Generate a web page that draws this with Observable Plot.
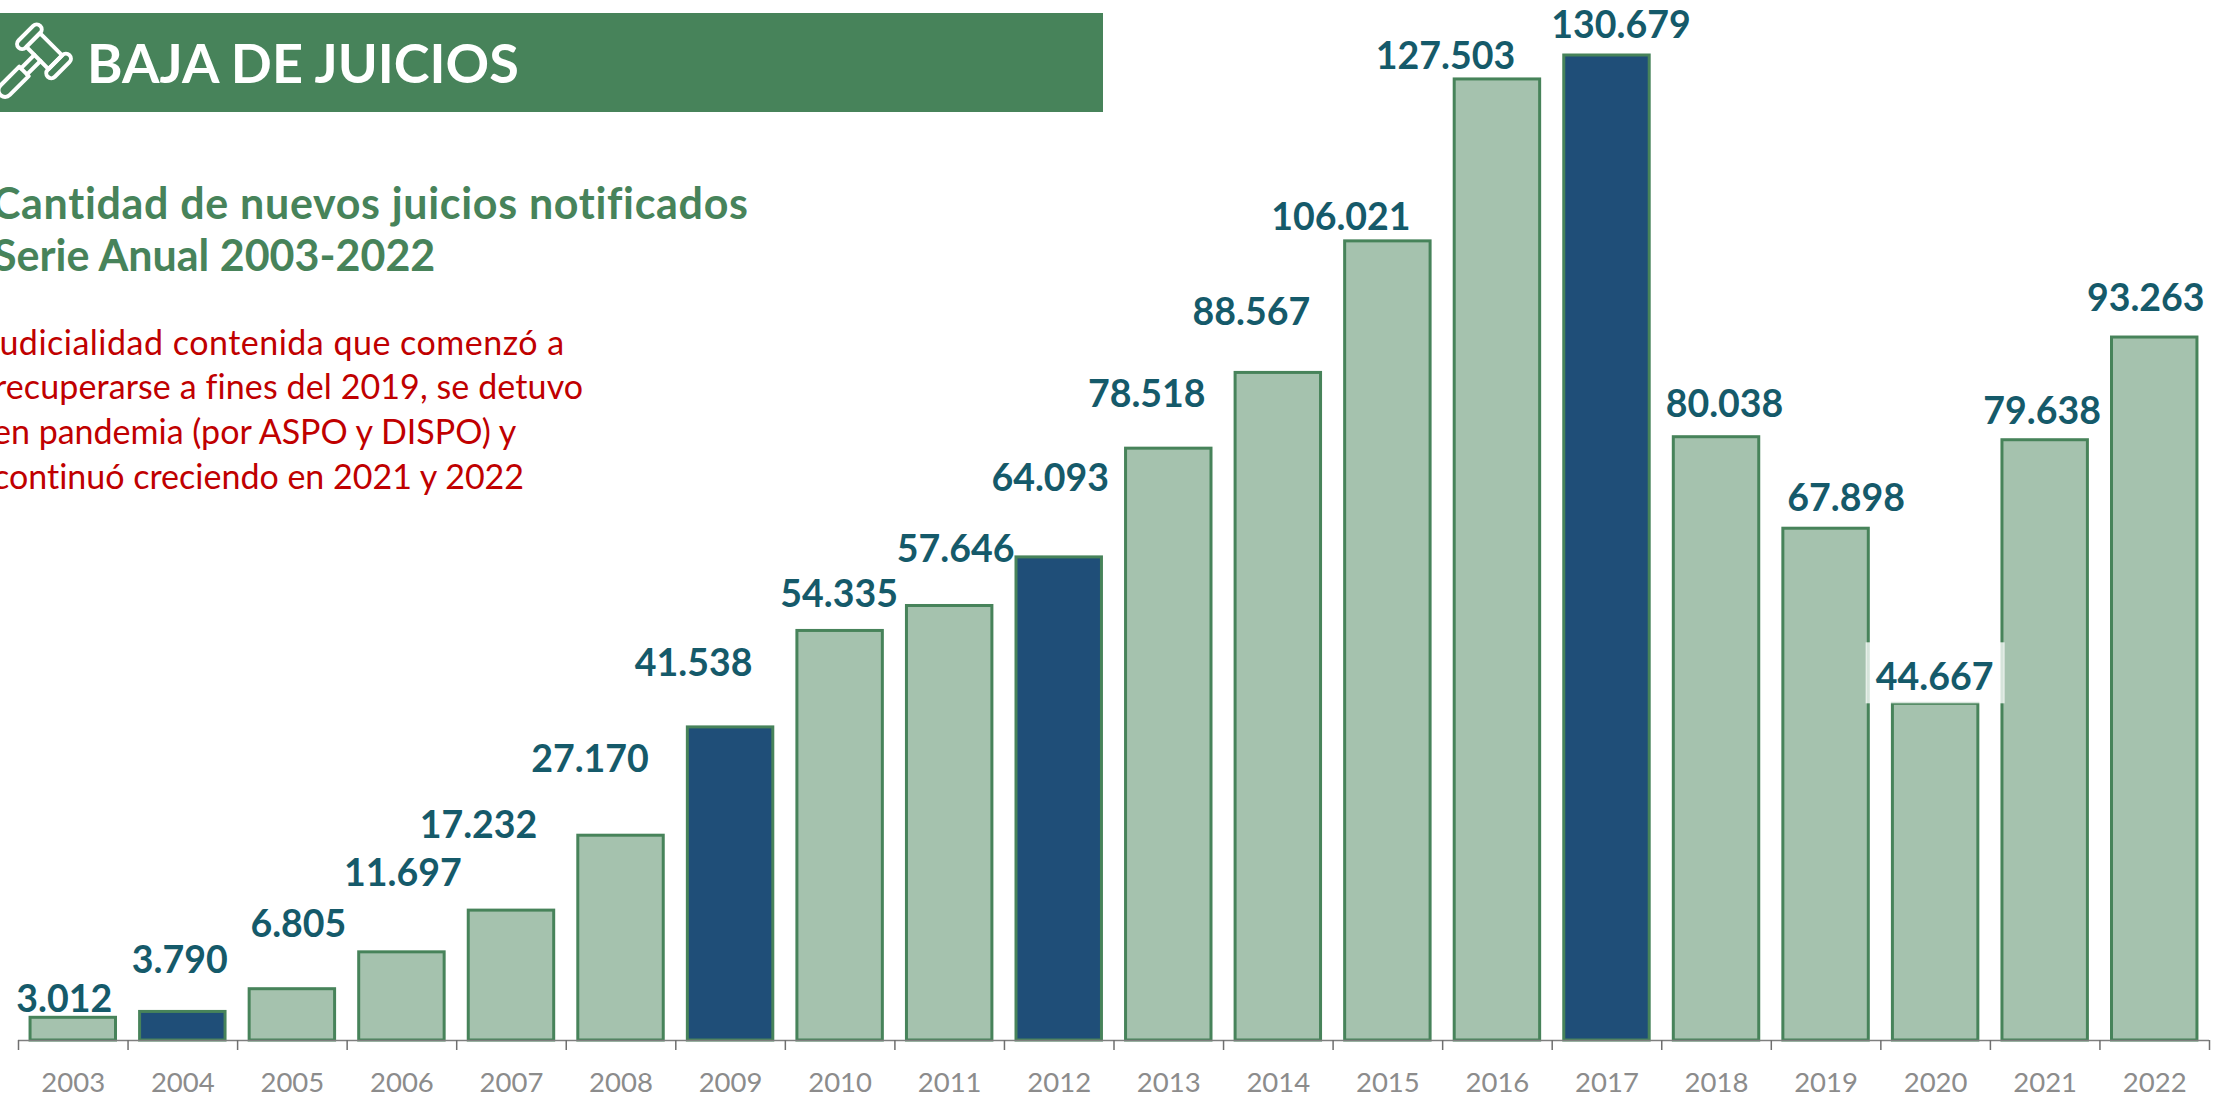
<!DOCTYPE html>
<html><head><meta charset="utf-8">
<script src="https://cdn.jsdelivr.net/npm/d3@7"></script>
<script src="https://cdn.jsdelivr.net/npm/@observablehq/plot@0.6"></script>
<style>
html,body{margin:0;padding:0;background:#fff;overflow:hidden}
#wrap{position:relative;width:2218px;height:1095px;overflow:hidden;font-family:Lato,sans-serif;font-variant-ligatures:none}
#band{position:absolute;left:0;top:13px;width:1103px;height:99px;background:#47835a}
.t{position:absolute;white-space:nowrap;line-height:1}
svg{display:block}
</style></head><body><div id="wrap"></div>
<script>
const years = ["2003","2004","2005","2006","2007","2008","2009","2010","2011","2012","2013","2014","2015","2016","2017","2018","2019","2020","2021","2022"];
const values = [3012,3790,6805,11697,17232,27170,41538,54335,57646,64093,78518,88567,106021,127503,130679,80038,67898,44667,79638,93263];
const labels = ["3.012","3.790","6.805","11.697","17.232","27.170","41.538","54.335","57.646","64.093","78.518","88.567","106.021","127.503","130.679","80.038","67.898","44.667","79.638","93.263"];
const highlighted = ["2004","2009","2012","2017"];
const labelDx = [-9,-3,6,1,-33,-31,-37,-1,6,-9,-22,-27,-47,-52,14,8,20,-1,-3,-9];
const labelDy = [-18,-51,-64,-78,-85,-76,-63,-36,-56,-78,-54,-60,-23,-22,-30,-32,-30,-26,-28,-39];
const table = years.map((year,i)=>({year,value:values[i],label:labels[i],dark:highlighted.includes(year)}));

const GREEN="#47835a", LIGHT="#a5c2ae", NAVY="#1f4e78", INK="#155a6a";
const chart = Plot.plot({
  width:2218,height:1095,marginLeft:18,marginRight:9,marginTop:0,marginBottom:55,
  style:{fontFamily:"Lato,sans-serif",background:"transparent",fontVariantLigatures:"none"},
  x:{domain:years,paddingInner:0.22,paddingOuter:0.11,round:false,label:null,range:[18,2209]},
  y:{domain:[0,130679],range:[1040,55],axis:null},
  marks:[
    Plot.barY(table,{x:"year",y:"value",fill:d=>d.dark?NAVY:LIGHT,stroke:GREEN,strokeWidth:3}),
    Plot.barY(["2020"],{x:d=>d,y1:()=>44667,y2:()=>44667,insetTop:-61,insetLeft:-26.75,insetRight:-26.75,fill:"white",fillOpacity:0.78}),
    Plot.ruleY([0],{stroke:"#7f7f7f",strokeWidth:1.5}),
    ...years.map(y=>Plot.ruleX([y],{x:d=>d,y1:()=>0,y2:()=>0,insetBottom:-10,dx:-109.55/2,stroke:"#6f6f6f",strokeWidth:1.5})),
    Plot.ruleX(["2022"],{x:d=>d,y1:()=>0,y2:()=>0,insetBottom:-10,dx:109.55/2,stroke:"#6f6f6f",strokeWidth:1.5}),
    Plot.axisX({tickSize:0,tickPadding:43,fontSize:27.5,fill:"#8c8c8c",label:null,lineAnchor:"middle"}),
    ...table.map((d,i)=>Plot.text([d],{x:"year",y:"value",text:"label",dx:labelDx[i],dy:labelDy[i],fill:INK,fontSize:37.5,fontWeight:700,lineAnchor:"middle"}))
  ]
});
const wrap=document.getElementById("wrap");
wrap.appendChild(chart);
wrap.insertAdjacentHTML("beforeend",`
<div id="band"></div>
<svg style="position:absolute;left:0;top:13px" width="110" height="100" viewBox="0 0 330 300" fill="none" stroke="#fff" stroke-width="12" stroke-linejoin="round" stroke-linecap="round">
 <g transform="translate(132,115) rotate(45)">
  <rect x="-77" y="-46" width="30" height="92" rx="15"/>
  <rect x="47" y="-46" width="30" height="92" rx="15"/>
  <rect x="-47" y="-30" width="94" height="58"/>
  <path d="M-13 28 V85 M13 28 V85"/>
  <path d="M-20 85 H20 V165 A20 20 0 0 1 -20 165 Z"/>
 </g>
</svg>
<div class="t" style="left:87px;top:36px;font-size:54px;font-weight:700;color:#fff">BAJA DE JUICIOS</div>
<div class="t" style="left:-8px;top:181px;font-size:43px;font-weight:700;letter-spacing:.67px;color:${GREEN}">Cantidad de nuevos juicios notificados</div>
<div class="t" style="left:-7px;top:233px;font-size:43px;font-weight:700;color:${GREEN}">Serie Anual 2003-2022</div>
<div class="t" style="left:-15px;top:325px;font-size:34px;letter-spacing:.5px;color:#c00000">Judicialidad contenida que comenzó a</div>
<div class="t" style="left:-6px;top:369px;font-size:34px;letter-spacing:.1px;color:#c00000">recuperarse a fines del 2019, se detuvo</div>
<div class="t" style="left:-7px;top:414px;font-size:34px;color:#c00000">en pandemia (por ASPO y DISPO) y</div>
<div class="t" style="left:-7px;top:459px;font-size:34px;color:#c00000">continuó creciendo en 2021 y 2022</div>
`);
</script></body></html>
